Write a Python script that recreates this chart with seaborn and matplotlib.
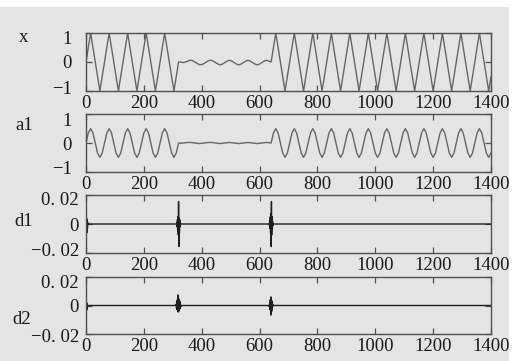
import numpy as np
import pandas as pd
import matplotlib
matplotlib.use("Agg")
import matplotlib.pyplot as plt
from matplotlib.transforms import ScaledTranslation
from matplotlib.patches import Rectangle
import seaborn as sns

# ---------------- data ----------------
step = 8  # sample spacing of the x / a1 lists
x_vals = [
    0, 0.5, 1, 0.5, 0, -0.5, -1, -0.5,
    0, 0.5, 1, 0.5, 0, -0.5, -1, -0.5,
    0, 0.5, 1, 0.5, 0, -0.5, -1, -0.5,
    0, 0.5, 1, 0.5, 0, -0.5, -1, -0.5,
    0, 0.5, 1, 0.5, 0, -0.5, -1, -0.5,
    0, 0.0, -0.02, 0.0, 0.03, 0.06, 0.05, 0.0,
    -0.05, -0.09, -0.09, -0.05, 0.0, 0.05, 0.06, 0.03,
    -0.02, -0.07, -0.1, -0.07, -0.02, 0.03, 0.06, 0.03,
    -0.02, -0.07, -0.1, -0.07, -0.02, 0.03, 0.06, 0.03,
    -0.02, -0.07, -0.1, -0.07, -0.02, 0.03, 0.06, 0.03,
    0, 0.5, 1, 0.5, 0, -0.5, -1, -0.5,
    0, 0.5, 1, 0.5, 0, -0.5, -1, -0.5,
    0, 0.5, 1, 0.5, 0, -0.5, -1, -0.5,
    0, 0.5, 1, 0.5, 0, -0.5, -1, -0.5,
    0, 0.5, 1, 0.5, 0, -0.5, -1, -0.5,
    0, 0.5, 1, 0.5, 0, -0.5, -1, -0.5,
    0, 0.5, 1, 0.5, 0, -0.5, -1, -0.5,
    0, 0.5, 1, 0.5, 0, -0.5, -1, -0.5,
    0, 0.5, 1, 0.5, 0, -0.5, -1, -0.5,
    0, 0.5, 1, 0.5, 0, -0.5, -1, -0.5,
    0, 0.5, 1, 0.5, 0, -0.5, -1, -0.5,
    0, 0.5, 1, 0.5, 0, -0.5, -1, -0.5,
]
a1_vals = [
    0, 0.35, 0.5, 0.35, 0, -0.35, -0.5, -0.35,
    0, 0.35, 0.5, 0.35, 0, -0.35, -0.5, -0.35,
    0, 0.35, 0.5, 0.35, 0, -0.35, -0.5, -0.35,
    0, 0.35, 0.5, 0.35, 0, -0.35, -0.5, -0.35,
    0, 0.35, 0.5, 0.35, 0, -0.35, -0.5, -0.35,
    0, -0.01, 0, 0.01, 0.02, 0.02, 0.01, 0,
    -0.01, -0.02, -0.01, 0, 0.01, 0.02, 0.02, 0.01,
    0, -0.01, -0.02, -0.01, 0, 0.01, 0.02, 0.01,
    0, -0.01, -0.02, -0.01, 0, 0.01, 0.02, 0.01,
    0, -0.01, -0.02, -0.01, 0, 0.01, 0.02, 0.01,
    0, 0.35, 0.5, 0.35, 0, -0.35, -0.5, -0.35,
    0, 0.35, 0.5, 0.35, 0, -0.35, -0.5, -0.35,
    0, 0.35, 0.5, 0.35, 0, -0.35, -0.5, -0.35,
    0, 0.35, 0.5, 0.35, 0, -0.35, -0.5, -0.35,
    0, 0.35, 0.5, 0.35, 0, -0.35, -0.5, -0.35,
    0, 0.35, 0.5, 0.35, 0, -0.35, -0.5, -0.35,
    0, 0.35, 0.5, 0.35, 0, -0.35, -0.5, -0.35,
    0, 0.35, 0.5, 0.35, 0, -0.35, -0.5, -0.35,
    0, 0.35, 0.5, 0.35, 0, -0.35, -0.5, -0.35,
    0, 0.35, 0.5, 0.35, 0, -0.35, -0.5, -0.35,
    0, 0.35, 0.5, 0.35, 0, -0.35, -0.5, -0.35,
    0, 0.35, 0.5, 0.35, 0, -0.35, -0.5, -0.35,
]
d1_n = [0, 1, 2, 3, 4, 5, 6, 8,
        312, 314, 315, 316, 317, 318, 319, 320, 321, 322, 323, 324, 325, 326, 328,
        632, 634, 635, 636, 637, 638, 639, 640, 641, 642, 643, 644, 645, 646, 648,
        1400]
d1_v = [0.004, -0.006, 0.004, -0.006, 0.003, -0.003, 0.001, 0,
        0, 0.001, -0.002, 0.003, -0.005, 0.005, -0.0075, 0.0155, -0.0155, 0.004, -0.006, 0.003, -0.002, 0.001, 0,
        0, -0.001, 0.002, -0.003, 0.005, -0.006, 0.007, -0.0155, 0.0155, -0.0075, 0.005, -0.004, 0.002, -0.001, 0,
        0]
d2_n = [0, 1, 2, 3, 4, 5, 8,
        310, 312, 313, 314, 315, 316, 317, 318, 319, 320, 321, 322, 323, 324, 325, 326, 327, 329,
        632, 634, 635, 636, 637, 638, 639, 640, 641, 642, 643, 644, 645, 647,
        1400]
d2_v = [0.011, -0.002, 0.002, -0.003, 0.001, -0.001, 0,
        0, 0.001, -0.002, 0.003, -0.003, 0.004, -0.004, 0.0074, -0.0046, 0.005, -0.004, 0.004, -0.003, 0.003, -0.002, 0.002, -0.001, 0,
        0, -0.001, 0.002, -0.003, 0.004, -0.003, 0.006, -0.0067, 0.004, -0.004, 0.003, -0.002, 0.001, 0,
        0]

panel_names = ["x", "a1", "d1", "d2"]
xtick_vals = [0, 200, 400, 600, 800, 1000, 1200, 1400]
ytick_big = [-1, 0, 1]
ytick_big_labels = ["\u22121", "0", "1"]
ytick_small = [-0.02, 0, 0.02]
ytick_small_labels = ["\u22120. 02", "0", "0. 02"]

# ---------------- style ----------------
sns.set_style("ticks")
plt.rcParams['font.family'] = ['Liberation Serif', 'DejaVu Serif']
plt.rcParams['axes.unicode_minus'] = True

BG = "#e4e4e4"
FRAME = "#505050"
FS = 13.5

fig = plt.figure(figsize=(5.12, 3.61), dpi=100, facecolor="white")
fig.patches.append(Rectangle((0, 0), 509 / 512, (361 - 7) / 361, transform=fig.transFigure,
                             facecolor=BG, edgecolor="none", zorder=-10))

W, H = 512.0, 361.0
boxes = [(33, 91), (114.3, 171.7), (195, 253), (277, 334)]  # top, bottom in pixels
left, right = 86, 491

n_grid = np.arange(len(x_vals)) * step
series = [
    (n_grid, x_vals, "#666666", 1.0),
    (n_grid, a1_vals, "#666666", 1.0),
    (np.array(d1_n), d1_v, "#1e1e1e", 1.0),
    (np.array(d2_n), d2_v, "#1e1e1e", 1.0),
]
label_pos = [(24, 37), (24, 126), (24, 221), (22, 320)]
ylab_offsets = [  # pixel shift (down positive) for bottom, middle, top tick labels
    (-4, 0, 5), (-4, 0, 5), (-3, 0, 3), (1.5, 0, 4)]

for i, ((top, bot), (nn, vv, col, lw)) in enumerate(zip(boxes, series)):
    ax = fig.add_axes([left / W, (H - bot) / H, (right - left) / W, (bot - top) / H])
    ax.set_facecolor(BG)
    df = pd.DataFrame({"n": nn, "v": vv})
    sns.lineplot(data=df, x="n", y="v", ax=ax, color=col, linewidth=lw,
                 estimator=None, sort=False)
    ax.set_xlim(0, 1400)
    ax.set_xticks(xtick_vals)
    ax.set_xticklabels([str(t) for t in xtick_vals])
    if i < 2:
        ax.set_ylim(-1, 1)
        ax.set_yticks(ytick_big)
        ax.set_yticklabels(ytick_big_labels)
        ypad = 10
    else:
        ax.set_ylim(-0.02, 0.02)
        ax.set_yticks(ytick_small)
        ax.set_yticklabels(ytick_small_labels)
        ypad = 5
    ax.set_xlabel("")
    ax.set_ylabel("")
    for s in ax.spines.values():
        s.set_color(FRAME)
        s.set_linewidth(1.0)
    ax.tick_params(axis="both", direction="in", length=4, width=0.9, color=FRAME,
                   top=True, right=True, labelsize=FS, labelcolor="#1a1a1a")
    ax.tick_params(axis="x", pad=3)
    ax.tick_params(axis="y", pad=ypad)
    for tk, dy in zip(ax.yaxis.get_major_ticks(), ylab_offsets[i]):
        tk.label1.set_transform(tk.label1.get_transform() +
                                ScaledTranslation(0, -dy / 100.0, fig.dpi_scale_trans))
    lx, ly = label_pos[i]
    fig.text(lx / W, (H - ly) / H, panel_names[i], ha="center", va="center",
             fontsize=FS, color="#1a1a1a")

fig.savefig("out.png", dpi=100, facecolor="white")
